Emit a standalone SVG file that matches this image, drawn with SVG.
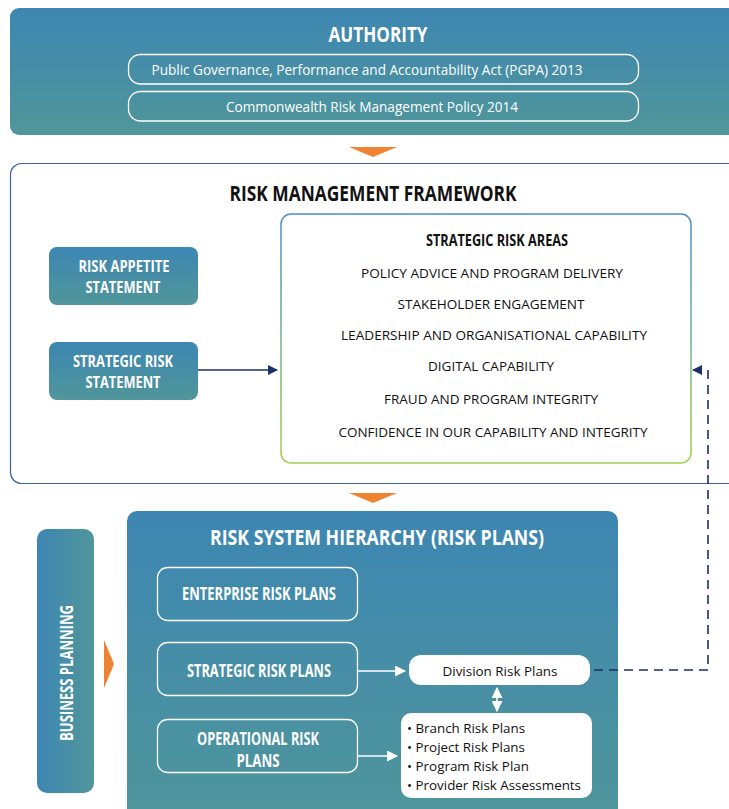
<svg xmlns="http://www.w3.org/2000/svg" width="729" height="809" viewBox="0 0 729 809">
  <defs>
    <linearGradient id="gBlueV" x1="0" y1="0" x2="0" y2="1">
      <stop offset="0" stop-color="#3d86b2"/>
      <stop offset="1" stop-color="#50969a"/>
    </linearGradient>
    <linearGradient id="gBlueH" x1="0" y1="0" x2="1" y2="0">
      <stop offset="0" stop-color="#3d86b2"/>
      <stop offset="1" stop-color="#50969a"/>
    </linearGradient>
    <linearGradient id="gEdge" x1="0" y1="0" x2="0" y2="1">
      <stop offset="0" stop-color="#4a8ec6"/>
      <stop offset="1" stop-color="#9fd04a"/>
    </linearGradient>
    <marker id="navyHead" viewBox="0 0 10 10" refX="9" refY="5" markerWidth="10" markerHeight="10" markerUnits="userSpaceOnUse" orient="auto">
      <path d="M0,0 L10,5 L0,10 z" fill="#1b2f6b"/>
    </marker>
    <marker id="whiteHead" viewBox="0 0 10 10" refX="9" refY="5" markerWidth="11" markerHeight="11" markerUnits="userSpaceOnUse" orient="auto-start-reverse">
      <path d="M0,0 L10,5 L0,10 z" fill="#ffffff"/>
    </marker>
  </defs>
  <style>
    .h1 { font-family: "Liberation Sans Narrow", "Open Sans", "Liberation Sans", sans-serif; font-weight: bold; font-size: 22px; text-anchor: middle; }
    .hw { fill: #ffffff; }
    .hb { fill: #111111; }
    .pill { fill: none; stroke: #ffffff; stroke-width: 1.3; }
    .pillText { font-family: "Open Sans", "Liberation Sans", sans-serif; font-size: 14px; fill: #ffffff; text-anchor: middle; }
    .boxLbl { font-family: "Liberation Sans Narrow", "Open Sans", "Liberation Sans", sans-serif; font-weight: bold; font-size: 16px; fill: #ffffff; text-anchor: middle; }
    .planLbl { font-family: "Liberation Sans Narrow", "Open Sans", "Liberation Sans", sans-serif; font-weight: bold; font-size: 17px; fill: #ffffff; text-anchor: middle; }
    .vertLbl { font-family: "Open Sans", "Liberation Sans", sans-serif; font-weight: bold; font-size: 17px; fill: #ffffff; text-anchor: middle; }
    .area { font-family: "Open Sans", "Liberation Sans", sans-serif; font-size: 13.5px; fill: #111111; text-anchor: middle; }
    .areaHead { font-family: "Liberation Sans Narrow", "Open Sans", "Liberation Sans", sans-serif; font-weight: bold; font-size: 16px; fill: #111111; text-anchor: middle; }
    .plan { font-family: "Open Sans", "Liberation Sans", sans-serif; font-size: 13.5px; fill: #111111; }
    .tri { fill: #f08331; }
  </style>

  <!-- Authority -->
  <g id="authority">
    <rect x="10" y="8" width="740" height="127" rx="9" fill="url(#gBlueV)"/>
    <text class="h1 hw" x="378" y="42" textLength="99" lengthAdjust="spacingAndGlyphs">AUTHORITY</text>
    <rect class="pill" x="128.5" y="54.5" width="510" height="29.5" rx="12"/>
    <text class="pillText" x="367" y="75" textLength="431" lengthAdjust="spacingAndGlyphs">Public Governance, Performance and Accountability Act (PGPA) 2013</text>
    <rect class="pill" x="128.5" y="91.5" width="510" height="29.5" rx="12"/>
    <text class="pillText" x="372" y="112" textLength="292" lengthAdjust="spacingAndGlyphs">Commonwealth Risk Management Policy 2014</text>
  </g>

  <polygon class="tri" points="349,147 397,147 373,157"/>

  <!-- Risk management framework -->
  <g id="framework">
    <rect x="10.5" y="163.5" width="740" height="320" rx="11" fill="#ffffff" stroke="#3e6797" stroke-width="1.2"/>
    <text class="h1 hb" x="373" y="201" textLength="287" lengthAdjust="spacingAndGlyphs">RISK MANAGEMENT FRAMEWORK</text>
  </g>

  <g id="riskAppetite">
    <rect x="49" y="247" width="149" height="58" rx="8" fill="url(#gBlueV)"/>
    <text class="boxLbl" x="124" y="272" textLength="91" lengthAdjust="spacingAndGlyphs">RISK APPETITE</text>
    <text class="boxLbl" x="123" y="293" textLength="75" lengthAdjust="spacingAndGlyphs">STATEMENT</text>
  </g>

  <g id="strategicStatement">
    <rect x="49" y="342" width="149" height="58" rx="8" fill="url(#gBlueV)"/>
    <text class="boxLbl" x="123" y="367" textLength="100" lengthAdjust="spacingAndGlyphs">STRATEGIC RISK</text>
    <text class="boxLbl" x="123" y="388" textLength="75" lengthAdjust="spacingAndGlyphs">STATEMENT</text>
  </g>

  <g id="strategicAreas">
    <rect x="281" y="214" width="410" height="249" rx="10" fill="#ffffff" stroke="url(#gEdge)" stroke-width="1.5"/>
    <text class="areaHead" x="497" y="246" textLength="142" lengthAdjust="spacingAndGlyphs">STRATEGIC RISK AREAS</text>
    <text class="area" x="492" y="278" textLength="262" lengthAdjust="spacingAndGlyphs">POLICY ADVICE AND PROGRAM DELIVERY</text>
    <text class="area" x="491" y="309" textLength="187" lengthAdjust="spacingAndGlyphs">STAKEHOLDER ENGAGEMENT</text>
    <text class="area" x="494" y="340" textLength="306" lengthAdjust="spacingAndGlyphs">LEADERSHIP AND ORGANISATIONAL CAPABILITY</text>
    <text class="area" x="491" y="371" textLength="126" lengthAdjust="spacingAndGlyphs">DIGITAL CAPABILITY</text>
    <text class="area" x="491" y="404" textLength="214" lengthAdjust="spacingAndGlyphs">FRAUD AND PROGRAM INTEGRITY</text>
    <text class="area" x="493" y="437" textLength="309" lengthAdjust="spacingAndGlyphs">CONFIDENCE IN OUR CAPABILITY AND INTEGRITY</text>
  </g>

  <polygon class="tri" points="349,493 397,493 373,503"/>

  <!-- Business planning -->
  <g id="businessPlanning">
    <rect x="37" y="529" width="57" height="264" rx="10" fill="url(#gBlueH)"/>
    <text class="vertLbl" transform="translate(73,673) rotate(-90)" x="0" y="0" textLength="136" lengthAdjust="spacingAndGlyphs">BUSINESS  PLANNING</text>
  </g>
  <polygon class="tri" points="104,640 114,664 104,688"/>

  <!-- Risk system hierarchy -->
  <g id="hierarchy">
    <rect x="127" y="511" width="491" height="320" rx="10" fill="url(#gBlueV)"/>
    <text class="h1 hw" x="377" y="545" textLength="334" lengthAdjust="spacingAndGlyphs">RISK SYSTEM HIERARCHY (RISK PLANS)</text>
  </g>

  <g id="enterprisePlans">
    <rect class="pill" x="157.5" y="567.5" width="200" height="53" rx="10"/>
    <text class="planLbl" x="259" y="600" textLength="154" lengthAdjust="spacingAndGlyphs">ENTERPRISE RISK PLANS</text>
  </g>

  <g id="strategicPlans">
    <rect class="pill" x="157.5" y="642.5" width="200" height="53" rx="10"/>
    <text class="planLbl" x="259" y="677" textLength="144" lengthAdjust="spacingAndGlyphs">STRATEGIC RISK PLANS</text>
  </g>

  <g id="operationalPlans">
    <rect class="pill" x="157.5" y="719.5" width="200" height="53" rx="10"/>
    <text class="planLbl" x="258" y="745" textLength="122" lengthAdjust="spacingAndGlyphs">OPERATIONAL RISK</text>
    <text class="planLbl" x="258" y="767" textLength="43" lengthAdjust="spacingAndGlyphs">PLANS</text>
  </g>

  <g id="divisionPlans">
    <rect x="409" y="655" width="181" height="30" rx="12" fill="#ffffff"/>
    <text class="plan" x="500" y="676" text-anchor="middle" textLength="115" lengthAdjust="spacingAndGlyphs">Division Risk Plans</text>
  </g>

  <g id="localPlans">
    <rect x="401" y="713" width="191" height="85" rx="10" fill="#ffffff"/>
    <text class="plan" x="407" y="733" textLength="118" lengthAdjust="spacingAndGlyphs">• Branch Risk Plans</text>
    <text class="plan" x="407" y="752" textLength="118" lengthAdjust="spacingAndGlyphs">• Project Risk Plans</text>
    <text class="plan" x="407" y="771" textLength="122" lengthAdjust="spacingAndGlyphs">• Program Risk Plan</text>
    <text class="plan" x="407" y="790" textLength="174" lengthAdjust="spacingAndGlyphs">• Provider Risk Assessments</text>
  </g>

  <!-- Connectors -->
  <g id="connectors">
    <line x1="198" y1="370" x2="277" y2="370" stroke="#1b2f6b" stroke-width="1.6" marker-end="url(#navyHead)"/>
    <polyline points="594,670 708,670 708,370 693,370" fill="none" stroke="#1b2f6b" stroke-width="1.6" stroke-dasharray="9,6" marker-end="url(#navyHead)"/>
    <line x1="358" y1="671" x2="405" y2="671" stroke="#ffffff" stroke-width="1.6" marker-end="url(#whiteHead)"/>
    <line x1="358" y1="756" x2="397" y2="756" stroke="#ffffff" stroke-width="1.6" marker-end="url(#whiteHead)"/>
    <line x1="497" y1="688" x2="497" y2="711" stroke="#ffffff" stroke-width="1.6" marker-start="url(#whiteHead)" marker-end="url(#whiteHead)"/>
  </g>
</svg>
